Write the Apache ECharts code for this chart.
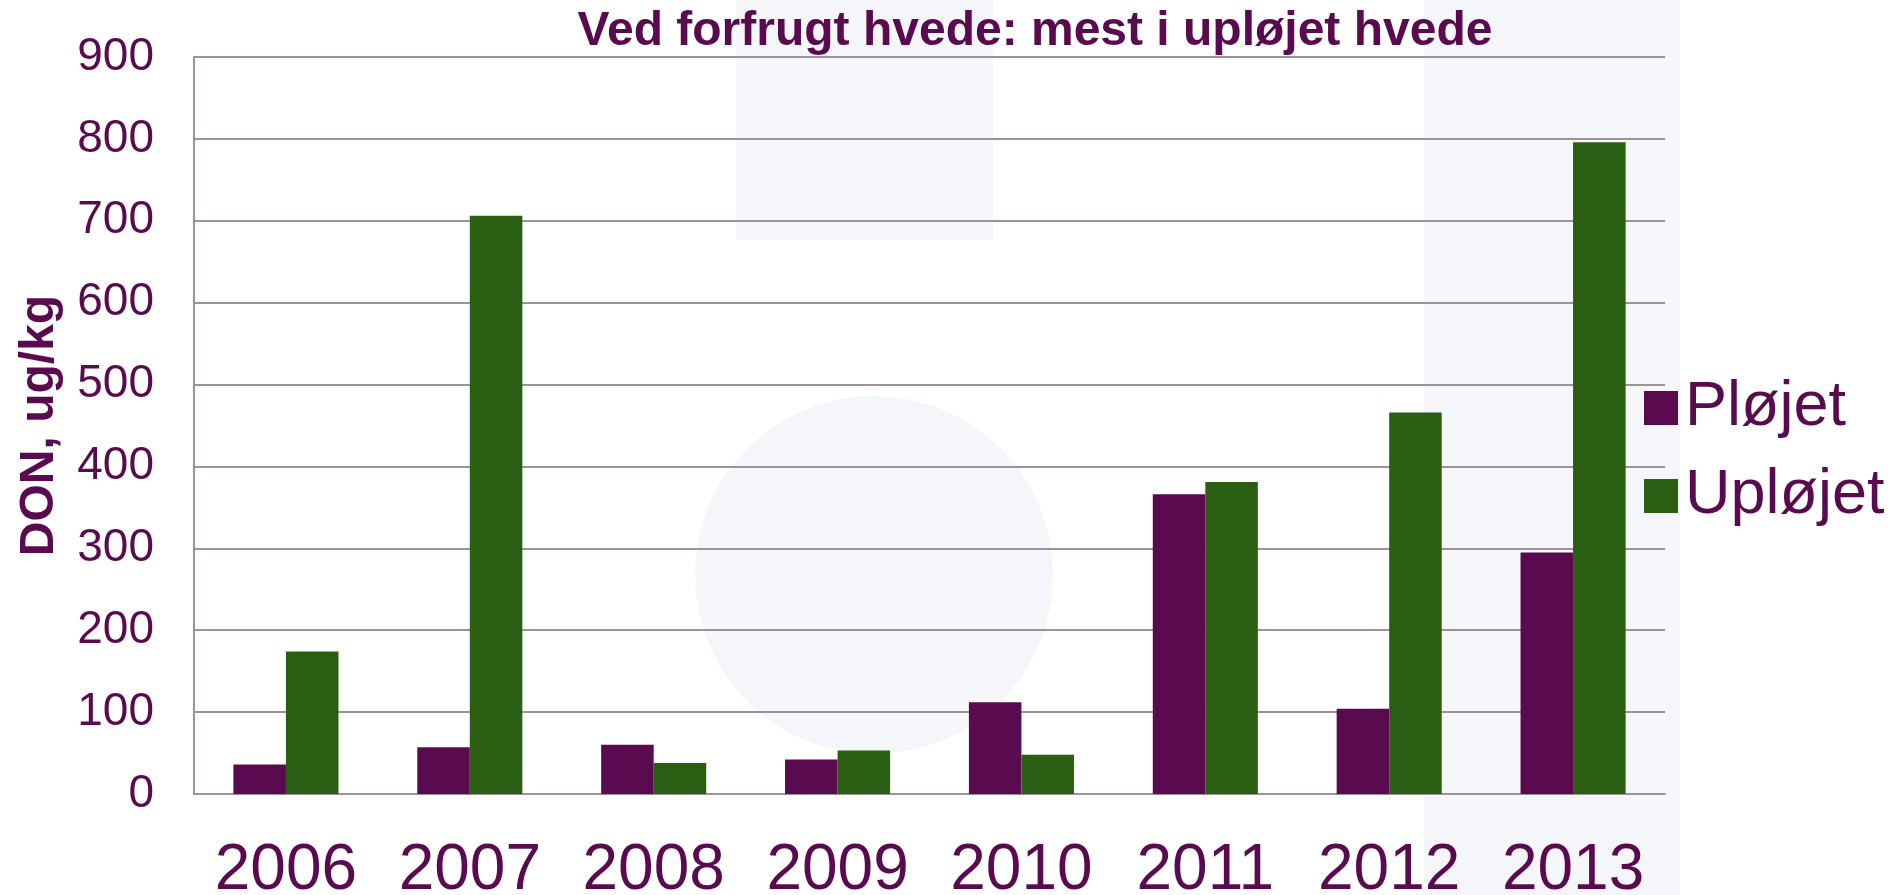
<!DOCTYPE html>
<html>
<head>
<meta charset="utf-8">
<script src="https://cdn.jsdelivr.net/npm/echarts@6/dist/echarts.min.js"></script>
<style>
html,body{margin:0;padding:0;background:#fff;}
#chart{width:1901px;height:895px;}
</style>
</head>
<body>
<div id="chart"></div>
<script>
const categories = ['2006','2007','2008','2009','2010','2011','2012','2013'];
const plojet = [36, 57, 60, 42, 112, 366, 104, 295];
const uplojet = [174, 706, 38, 53, 48, 381, 466, 796];
const seriesNames = ['Pløjet', 'Upløjet'];
const titleText = 'Ved forfrugt hvede: mest i upløjet hvede';
const yName = 'DON, ug/kg';

const TXT = '#5a0a4e';
const PLUM = '#5a0a4e';
const GREEN = '#2a5e13';
const GRID = '#a0909c';
const FONT = '"Liberation Sans", Arial, sans-serif';

const chart = echarts.init(document.getElementById('chart'));
chart.setOption({
  backgroundColor: '#ffffff',
  animation: false,
  textStyle: { fontFamily: FONT },
  graphic: [
    { type: 'rect', z: -10, silent: true, shape: { x: 736, y: 0, width: 257, height: 240 }, style: { fill: '#f5f6fa' } },
    { type: 'rect', z: -10, silent: true, shape: { x: 1424, y: 0, width: 256, height: 895 }, style: { fill: '#f5f6fa' } },
    { type: 'circle', z: -10, silent: true, shape: { cx: 874, cy: 575, r: 179 }, style: { fill: '#f5f6fa' } }
  ],
  title: {
    text: titleText,
    left: 1030, top: 3, textAlign: 'center',
    textStyle: { fontFamily: FONT, fontWeight: 'bold', fontSize: 48, color: TXT }
  },
  legend: {
    orient: 'vertical',
    left: 1639, top: 370,
    itemWidth: 34, itemHeight: 34, itemGap: 22,
    icon: 'rect',
    textStyle: { fontFamily: FONT, fontSize: 63, color: TXT, padding: [0,0,0,2], lineHeight: 66 },
    data: seriesNames
  },
  grid: { left: 194, right: 236, top: 57, bottom: 101, outerBoundsMode: 'none', containLabel: false },
  xAxis: {
    type: 'category',
    data: categories,
    axisLine: { show: true, lineStyle: { color: GRID, width: 2 } },
    axisTick: { show: false },
    axisLabel: { color: TXT, fontSize: 64, fontFamily: FONT, margin: 45, interval: 0 }
  },
  yAxis: {
    type: 'value',
    min: 0, max: 900, interval: 100,
    name: yName,
    nameLocation: 'middle',
    nameGap: 130,
    nameRotate: 90,
    nameTextStyle: { color: TXT, fontSize: 48, fontWeight: 'bold', fontFamily: FONT },
    axisLine: { show: true, lineStyle: { color: GRID, width: 2 } },
    axisTick: { show: false },
    axisLabel: { color: TXT, fontSize: 46, fontFamily: FONT, margin: 40 },
    splitLine: { show: true, lineStyle: { color: GRID, width: 2 } }
  },
  series: [
    { name: seriesNames[0], type: 'bar', data: plojet, itemStyle: { color: PLUM }, barGap: '0%', barCategoryGap: '42.86%' },
    { name: seriesNames[1], type: 'bar', data: uplojet, itemStyle: { color: GREEN }, barGap: '0%', barCategoryGap: '42.86%' }
  ]
});
</script>
</body>
</html>
